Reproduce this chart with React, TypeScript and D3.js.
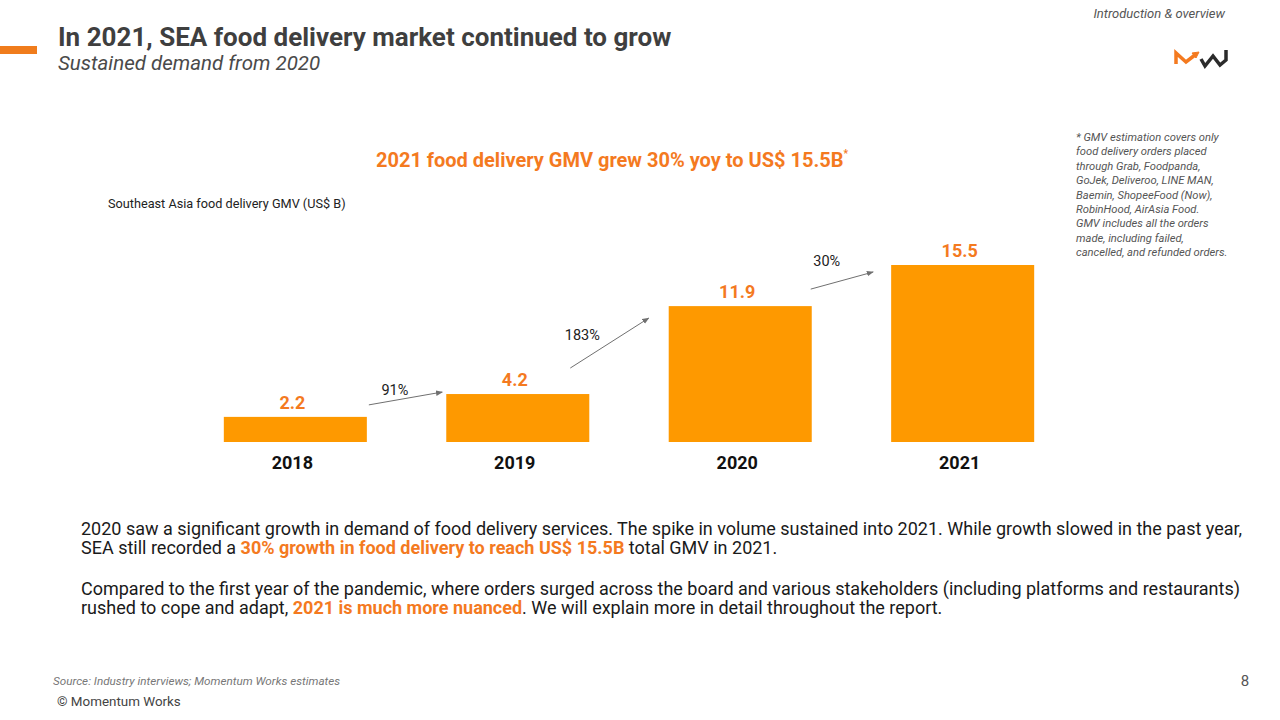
import React from "react";
import * as d3 from "d3";

const years = ["2018", "2019", "2020", "2021"];
const gmv = [2.2, 4.2, 11.9, 15.5];
const growthLabels = ["91%", "183%", "30%"];

const footnoteLines = [
  "* GMV estimation covers only",
  "food delivery orders placed",
  "through Grab, Foodpanda,",
  "GoJek, Deliveroo, LINE MAN,",
  "Baemin, ShopeeFood (Now),",
  "RobinHood, AirAsia Food.",
  "GMV includes all the orders",
  "made, including failed,",
  "cancelled, and refunded orders.",
];

const ORANGE_BAR = "#fe9900";
const ORANGE_TXT = "#f47a1f";
const DARK = "#3f3f3f";
const FONT = "Roboto, 'Noto Sans', sans-serif";

// annotation layout tweaks (pixel offsets relative to bar edges/tops)
const arrowLayout = [
  { sx: 2, ex: -4, sy: -12, ey: -2, lx: 26, ly: -10 },
  { sx: -19, ex: -20, sy: -26, ey: 12, lx: 12, ly: -28 },
  { sx: -1, ex: -18, sy: -17, ey: 7, lx: 16, ly: -23 },
];

export default function App() {
  const W = 1280, H = 720;
  const baseY = 442;
  const x = d3.scaleBand<string>().domain(years).range([184, 1074]).paddingInner(0.357).paddingOuter(0.179);
  const y = d3.scaleLinear().domain([0, 15.5]).range([baseY, 265]);

  const arrows = years.slice(0, -1).map((yr, i) => {
    const L = arrowLayout[i];
    const x0 = (x(yr) as number) + x.bandwidth() + L.sx;
    const x1 = (x(years[i + 1]) as number) + L.ex;
    const y0 = y(gmv[i]) + L.sy;
    const y1 = y(gmv[i + 1]) + L.ey;
    return { x0, x1, y0, y1, lx: x0 + L.lx, ly: y0 + L.ly, label: growthLabels[i] };
  });

  return (
    <svg width={W} height={H} style={{ display: "block", position: "absolute", left: 0, top: 0, background: "#fff" }} fontFamily={FONT}>
      <defs>
        <marker id="ah" viewBox="0 0 10 10" refX="9" refY="5" markerWidth="7" markerHeight="7" orient="auto">
          <path d="M0,1 L10,5 L0,9 z" fill="#707070" />
        </marker>
      </defs>
      <rect width={W} height={H} fill="#fff" />
      {/* header */}
      <rect x={0} y={46} width={37} height={8} fill="#f07c1c" />
      <text x={58} y={46} fontSize={26} fontWeight={700} fill={DARK}>In 2021, SEA food delivery market continued to grow</text>
      <text x={58} y={70} fontSize={20.5} fontStyle="italic" fill="#4a4a4a">Sustained demand from 2020</text>
      <text x={1225} y={18} fontSize={13} fontStyle="italic" fill="#555" textAnchor="end">Introduction &amp; overview</text>
      {/* logo */}
      <g fill="none" strokeWidth={3.5} strokeLinejoin="miter" strokeLinecap="butt">
        <path d="M1176,64 L1176,53 L1186,62 L1195,55" stroke="#f47a1f" />
        <path d="M1192,53 L1199,52 L1196,58 z" fill="#f47a1f" stroke="#f47a1f" strokeWidth={1} />
        <path d="M1201,59 L1205,66 L1213,56 L1220,65 L1226,60 L1226,50" stroke="#2b2b2b" />
      </g>

      {/* chart title */}
      <text x={612} y={167} fontSize={20} fontWeight={700} fill={ORANGE_TXT} textAnchor="middle">
        2021 food delivery GMV grew 30% yoy to US$ 15.5B<tspan fontSize={10} dy={-10}>*</tspan>
      </text>
      <text x={108} y={208} fontSize={12.7} fill="#222">Southeast Asia food delivery GMV (US$ B)</text>

      {/* bars */}
      {years.map((yr, i) => (
        <g key={yr}>
          <rect x={x(yr)} y={y(gmv[i])} width={x.bandwidth()} height={baseY - y(gmv[i])} fill={ORANGE_BAR} />
          <text x={(x(yr) as number) + x.bandwidth() / 2 - 3} y={y(gmv[i]) - 8} fontSize={18} fontWeight={700} fill={ORANGE_TXT} textAnchor="middle">{gmv[i]}</text>
          <text x={(x(yr) as number) + x.bandwidth() / 2 - 3} y={469} fontSize={18} fontWeight={700} fill="#111" textAnchor="middle">{yr}</text>
        </g>
      ))}
      {arrows.map((a, i) => (
        <g key={i}>
          <line x1={a.x0} y1={a.y0} x2={a.x1} y2={a.y1} stroke="#707070" strokeWidth={1} markerEnd="url(#ah)" />
          <text x={a.lx} y={a.ly} fontSize={14.5} fill="#222" textAnchor="middle">{a.label}</text>
        </g>
      ))}

      {/* footnote */}
      {footnoteLines.map((l, i) => (
        <text key={i} x={1076} y={141 + i * 14.4} fontSize={11.2} fontStyle="italic" fill="#555">{l}</text>
      ))}

      {/* body */}
      <g fontSize={18} fill="#1a1a1a">
        <text x={81} y={535}>2020 saw a significant growth in demand of food delivery services. The spike in volume sustained into 2021. While growth slowed in the past year,</text>
        <text x={81} y={554}>SEA still recorded a <tspan fill={ORANGE_TXT} fontWeight={700}>30% growth in food delivery to reach US$ 15.5B</tspan> total GMV in 2021.</text>
        <text x={81} y={595}>Compared to the first year of the pandemic, where orders surged across the board and various stakeholders (including platforms and restaurants)</text>
        <text x={81} y={614}>rushed to cope and adapt, <tspan fill={ORANGE_TXT} fontWeight={700}>2021 is much more nuanced</tspan>. We will explain more in detail throughout the report.</text>
      </g>

      {/* footer */}
      <text x={53} y={685} fontSize={11.7} fontStyle="italic" fill="#777">Source: Industry interviews; Momentum Works estimates</text>
      <text x={57} y={706} fontSize={13.4} fill="#444">© Momentum Works</text>
      <text x={1245} y={686} fontSize={15} fill="#555" textAnchor="middle">8</text>
    </svg>
  );
}
